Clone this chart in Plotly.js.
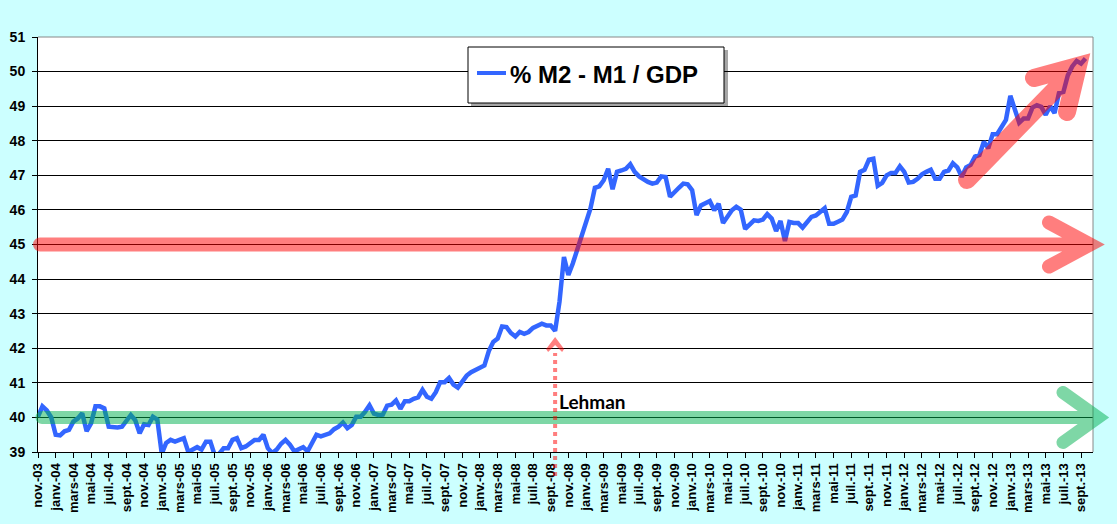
<!DOCTYPE html>
<html>
<head>
<meta charset="utf-8">
<script src="https://cdn.plot.ly/plotly-3.0.1.min.js"></script>
<style>
  html, body { margin: 0; padding: 0; background: #ccffff; }
</style>
</head>
<body>
<div id="chart" style="width:1117px;height:524px"></div>
<script>
// tick labels, one every 2 months starting nov.-03
var tickLabels = [
  'nov.-03',
  'janv.-04', 'mars-04', 'mai-04', 'juil.-04', 'sept.-04', 'nov.-04',
  'janv.-05', 'mars-05', 'mai-05', 'juil.-05', 'sept.-05', 'nov.-05',
  'janv.-06', 'mars-06', 'mai-06', 'juil.-06', 'sept.-06', 'nov.-06',
  'janv.-07', 'mars-07', 'mai-07', 'juil.-07', 'sept.-07', 'nov.-07',
  'janv.-08', 'mars-08', 'mai-08', 'juil.-08', 'sept.-08', 'nov.-08',
  'janv.-09', 'mars-09', 'mai-09', 'juil.-09', 'sept.-09', 'nov.-09',
  'janv.-10', 'mars-10', 'mai-10', 'juil.-10', 'sept.-10', 'nov.-10',
  'janv.-11', 'mars-11', 'mai-11', 'juil.-11', 'sept.-11', 'nov.-11',
  'janv.-12', 'mars-12', 'mai-12', 'juil.-12', 'sept.-12', 'nov.-12',
  'janv.-13', 'mars-13', 'mai-13', 'juil.-13', 'sept.-13'
];

// % (M2 - M1) / GDP, read twice a month from nov.03
var ratio = [
  40.02, 40.32, 40.20, 40.00, 39.50, 39.48, 39.60, 39.64, 39.88, 39.97,   // nov.03 - mars.04
  40.12, 39.60, 39.83, 40.32, 40.32, 40.26, 39.73, 39.71, 39.71, 39.73,   // mars.04 - aout.04
  39.92, 40.07, 39.92, 39.54, 39.80, 39.78, 40.02, 39.94, 38.95, 39.26,   // sept.04 - janv.05
  39.35, 39.30, 39.35, 39.40, 39.00, 39.07, 39.14, 39.07, 39.30, 39.30,   // fevr.05 - juin.05
  38.90, 38.95, 39.11, 39.11, 39.35, 39.40, 39.11, 39.16, 39.26, 39.35,   // juil.05 - nov.05
  39.35, 39.50, 39.11, 38.97, 39.07, 39.24, 39.35, 39.21, 39.02, 39.09,   // dec.05 - avr.06
  39.14, 39.02, 39.26, 39.50, 39.45, 39.50, 39.54, 39.66, 39.73, 39.85,   // mai.06 - sept.06
  39.69, 39.78, 40.02, 40.02, 40.16, 40.35, 40.11, 40.07, 40.08, 40.34,   // oct.06 - fevr.07
  40.37, 40.49, 40.25, 40.47, 40.47, 40.54, 40.58, 40.80, 40.60, 40.54,   // mars.07 - juil.07
  40.73, 41.02, 41.02, 41.14, 40.95, 40.86, 41.02, 41.21, 41.31, 41.38,   // aout.07 - dec.07
  41.43, 41.50, 41.92, 42.18, 42.28, 42.63, 42.61, 42.44, 42.34, 42.47,   // janv.08 - mai.08
  42.42, 42.47, 42.59, 42.66, 42.71, 42.66, 42.66, 42.50, 43.35, 44.64,   // juin.08 - oct.08
  44.12, 44.45, 44.84, 45.17, 45.65, 46.04, 46.64, 46.68, 46.86, 47.19,   // nov.08 - mars.09
  46.60, 47.10, 47.14, 47.19, 47.32, 47.10, 46.97, 46.88, 46.81, 46.76,   // avr.09 - aout.09
  46.79, 46.97, 46.95, 46.38, 46.49, 46.64, 46.76, 46.74, 46.57, 45.85,   // sept.09 - janv.10
  46.13, 46.18, 46.26, 45.99, 46.18, 45.62, 45.80, 45.99, 46.09, 46.01,   // fevr.10 - juin.10
  45.45, 45.56, 45.70, 45.68, 45.72, 45.88, 45.75, 45.39, 45.68, 45.10,   // juil.10 - nov.10
  45.65, 45.62, 45.62, 45.49, 45.65, 45.80, 45.84, 45.96, 46.05, 45.60,   // dec.10 - avr.11
  45.60, 45.66, 45.72, 45.94, 46.38, 46.42, 47.10, 47.16, 47.45, 47.48,   // mai.11 - sept.11
  46.70, 46.78, 47.00, 47.07, 47.07, 47.26, 47.10, 46.79, 46.81, 46.90,   // oct.11 - fevr.12
  47.03, 47.10, 47.16, 46.90, 46.90, 47.10, 47.14, 47.35, 47.23, 46.96,   // mars.12 - juil.12
  47.23, 47.30, 47.54, 47.59, 47.97, 47.78, 48.19, 48.19, 48.38, 48.60,   // aout.12 - dec.12
  49.30, 48.93, 48.52, 48.64, 48.64, 48.96, 49.03, 48.98, 48.75, 49.00,   // janv.13 - mai.13
  48.80, 49.38, 49.41, 49.89, 50.15, 50.31, 50.23, 50.38                  // juin.13 - sept.13
];

var yTicks = [39, 40, 41, 42, 43, 44, 45, 46, 47, 48, 49, 50, 51];

var months = ratio.map(function (v, i) { return i / 2; });
var tickVals = tickLabels.map(function (t, i) { return i * 2; });

var W = 1117, H = 524;
var M = { l: 38, r: 24, t: 37, b: 72 };
var pw = W - M.l - M.r, ph = H - M.t - M.b;
var xRange = [0, 119.35], yRange = [39, 51];

// pixel -> paper helpers for the drawn decorations
function px(x) { return (x - M.l) / pw; }
function py(y) { return (H - M.b - y) / ph; }
function yPix(v) { return H - M.b - (v - yRange[0]) / (yRange[1] - yRange[0]) * ph; }
function xPix(v) { return M.l + (v - xRange[0]) / (xRange[1] - xRange[0]) * pw; }

function path(segments) {
  return segments.map(function (seg) {
    return seg.map(function (p, i) {
      return (i === 0 ? 'M' : 'L') + px(p[0]).toFixed(5) + ',' + py(p[1]).toFixed(5);
    }).join(' ');
  }).join(' ');
}

var y45 = yPix(45), y40 = yPix(40);
var lehmanX = xPix(58.5);

var redArrow = path([
  [[40, y45], [1090, y45]],
  [[1049, y45 - 22], [1090, y45], [1049, y45 + 22]]
]);
var greenArrow = path([
  [[42, y40], [1098, y40]],
  [[1063, y40 - 25], [1098, y40], [1063, y40 + 25]]
]);
var riseArrow = path([
  [[967, 180], [1078, 66]],
  [[1034, 78], [1078, 66], [1067, 112]]
]);
var lehmanHead = path([
  [[lehmanX, 337], [lehmanX + 9, 349], [lehmanX + 7, 352], [lehmanX, 345],
   [lehmanX - 7, 352], [lehmanX - 9, 349], [lehmanX, 337]]
]) + ' Z';

var boldFont = { family: 'Liberation Sans, Arial, sans-serif', weight: 'bold', color: '#000' };

var data = [{
  x: months,
  y: ratio,
  type: 'scatter',
  mode: 'lines',
  name: '% M2 - M1 / GDP',
  line: { color: '#3366ff', width: 4.5 },
  hoverinfo: 'skip'
}];

var layout = {
  width: W,
  height: H,
  margin: M,
  paper_bgcolor: '#ccffff',
  plot_bgcolor: '#ffffff',
  showlegend: false,
  xaxis: {
    range: xRange,
    tickmode: 'array',
    tickvals: tickVals,
    ticktext: tickLabels,
    tickangle: -90,
    ticks: 'outside',
    ticklen: 5,
    tickcolor: '#000',
    tickfont: Object.assign({ size: 13 }, boldFont),
    showgrid: false,
    zeroline: false,
    showline: true,
    linecolor: '#000',
    linewidth: 1
  },
  yaxis: {
    range: yRange,
    tickmode: 'array',
    tickvals: yTicks,
    ticks: 'outside',
    ticklen: 5,
    tickcolor: '#000',
    ticklabelstandoff: 4,
    tickfont: Object.assign({ size: 14 }, boldFont),
    showgrid: true,
    gridcolor: '#000',
    gridwidth: 1,
    zeroline: false,
    showline: true,
    linecolor: '#000',
    linewidth: 1
  },
  shapes: [
    // grey frame top & right
    { type: 'line', xref: 'paper', yref: 'paper', x0: 0, x1: 1, y0: 1, y1: 1,
      line: { color: '#888', width: 1 }, layer: 'above' },
    { type: 'line', xref: 'paper', yref: 'paper', x0: 1, x1: 1, y0: 0, y1: 1,
      line: { color: '#888', width: 1 }, layer: 'above' },
    // legend box with shadow
    { type: 'rect', xref: 'paper', yref: 'paper', x0: px(471), x1: px(728), y0: py(107), y1: py(50),
      fillcolor: 'rgba(0,0,0,0.35)', line: { width: 0 }, layer: 'above' },
    { type: 'rect', xref: 'paper', yref: 'paper', x0: px(468), x1: px(724), y0: py(103), y1: py(47),
      fillcolor: '#ffffff', line: { color: '#000', width: 1 }, layer: 'above' },
    { type: 'line', xref: 'paper', yref: 'paper', x0: px(477), x1: px(506), y0: py(73), y1: py(73),
      line: { color: '#3366ff', width: 4 }, layer: 'above' },
    // arrows
    { type: 'path', xref: 'paper', yref: 'paper', path: redArrow, opacity: 0.5,
      line: { color: '#ff0000', width: 14 }, layer: 'above' },
    { type: 'path', xref: 'paper', yref: 'paper', path: greenArrow, opacity: 0.5,
      line: { color: '#00b050', width: 13 }, layer: 'above' },
    { type: 'path', xref: 'paper', yref: 'paper', path: riseArrow, opacity: 0.5,
      line: { color: '#ff0000', width: 18 }, layer: 'above' },
    // Lehman marker
    { type: 'line', xref: 'paper', yref: 'paper', x0: px(lehmanX), x1: px(lehmanX), y0: py(476), y1: py(353),
      opacity: 0.5, line: { color: '#ff0000', width: 4, dash: '4px,4px' }, layer: 'above' },
    { type: 'path', xref: 'paper', yref: 'paper', path: lehmanHead, opacity: 0.5,
      fillcolor: '#ff0000', line: { width: 0 }, layer: 'above' }
  ],
  annotations: [
    { xref: 'paper', yref: 'paper', x: px(508), y: py(74), xanchor: 'left', yanchor: 'middle',
      text: '% M2 - M1 / GDP', showarrow: false,
      font: Object.assign({}, boldFont, { size: 24 }) },
    { xref: 'paper', yref: 'paper', x: px(557), y: py(401), xanchor: 'left', yanchor: 'middle',
      text: 'Lehman', showarrow: false,
      font: { family: 'Lato, Open Sans, sans-serif', weight: 'bold', size: 19, color: '#000' } }
  ]
};

Plotly.newPlot('chart', data, layout, { staticPlot: true }).then(function (gd) {
  // rounded ends on the drawn arrows
  [5, 6, 7].forEach(function (i) {
    var el = gd.querySelector('.shapelayer path[data-index="' + i + '"]');
    if (el) el.style.strokeLinecap = 'round';
  });
});
</script>
</body>
</html>
